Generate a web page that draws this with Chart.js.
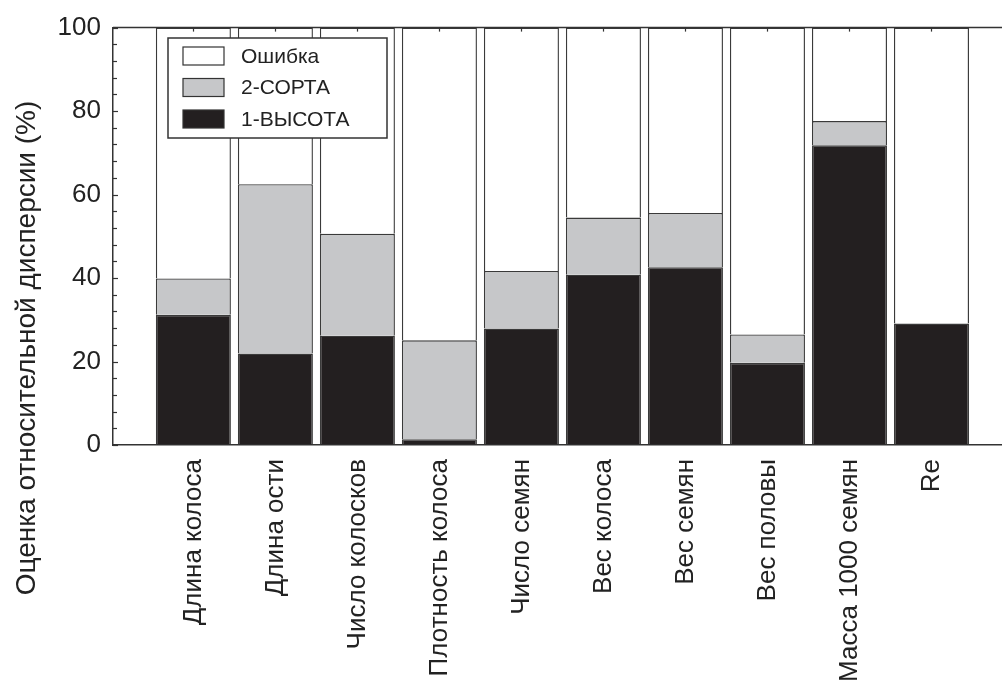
<!DOCTYPE html>
<html>
<head>
<meta charset="utf-8">
<script src="https://cdn.jsdelivr.net/npm/chart.js@4.4.1/dist/chart.umd.min.js"></script>
<style>
  html, body { margin: 0; padding: 0; background: #fff; }
  #wrap { width: 1002px; height: 684px; }
</style>
</head>
<body>
<div id="wrap"><canvas id="chart" width="1002" height="684"></canvas></div>
<script>
/* --------------- Data --------------------- */
const categories = [
  "Длина колоса", "Длина ости", "Число колосков", "Плотность колоса", "Число семян",
  "Вес колоса", "Вес семян", "Вес половы", "Масса 1000 семян", "Re",
];
const vysota = [31.2, 21.9, 26.2, 1.4, 27.9, 40.8, 42.6, 19.7, 71.8, 29.1];
const sorta = [8.7, 40.6, 24.4, 23.7, 13.8, 13.7, 13.0, 6.8, 5.8, 0];
const oshibka = [60.1, 37.5, 49.4, 74.9, 58.3, 45.5, 44.4, 73.5, 22.4, 70.9];
const yTicks = [0, 20, 40, 60, 80, 100];
const yTitle = "Оценка относительной дисперсии (%)";

const FONT = "'Liberation Sans', Arial, Helvetica, sans-serif";
const toPoints = (arr) => arr.map((v, i) => ({ x: i + 1, y: v }));

/* --------------- Frame, inner ticks, legend, y title --------------------- */
const framePlugin = {
  id: "frame",
  afterDraw(chart) {
    const { ctx, chartArea: a, scales: { x, y } } = chart;
    ctx.save();
    ctx.strokeStyle = "#333";
    ctx.lineWidth = 1.5;
    // top line
    ctx.beginPath();
    ctx.moveTo(a.left, a.top);
    ctx.lineTo(a.right, a.top);
    ctx.stroke();
    // minor + major ticks on the y axis, pointing inside
    ctx.lineWidth = 1.2;
    for (let v = 0; v <= 100; v += 4) {
      const py = Math.round(y.getPixelForValue(v)) + 0.5;
      ctx.beginPath();
      ctx.moveTo(a.left, py);
      ctx.lineTo(a.left + (v % 20 === 0 ? 5 : 4), py);
      ctx.stroke();
    }
    // ticks on the top line at category centres
    categories.forEach((_, i) => {
      const px = Math.round(x.getPixelForValue(i + 1)) + 0.5;
      ctx.beginPath();
      ctx.moveTo(px, a.top);
      ctx.lineTo(px, a.top + 4);
      ctx.stroke();
    });

    // legend box
    const lx = 168, ly = 38, lw = 219, lh = 100;
    ctx.fillStyle = "#fff";
    ctx.fillRect(lx, ly, lw, lh);
    ctx.strokeStyle = "#333";
    ctx.lineWidth = 1.5;
    ctx.strokeRect(lx, ly, lw, lh);
    const items = chart.data.datasets.slice().reverse();
    ctx.font = "21px " + FONT;
    ctx.textBaseline = "middle";
    items.forEach((ds, k) => {
      const cy = 56 + k * 31.5;
      ctx.fillStyle = ds.backgroundColor;
      ctx.fillRect(183, cy - 9, 41, 18);
      ctx.strokeStyle = "#333";
      ctx.lineWidth = 1.2;
      ctx.strokeRect(183, cy - 9, 41, 18);
      ctx.fillStyle = "#222";
      ctx.fillText(ds.label, 241, cy + 1);
    });

    // y axis title, centred lower than the plot as in the original
    ctx.translate(27, 348);
    ctx.rotate(-Math.PI / 2);
    ctx.font = "28px " + FONT;
    ctx.textAlign = "center";
    ctx.fillStyle = "#222";
    ctx.fillText(yTitle, 0, 0);
    ctx.restore();
  },
};

/* --------------- Chart --------------------- */
new Chart(document.getElementById("chart"), {
  type: "bar",
  plugins: [framePlugin],
  data: {
    datasets: [
      { label: "1-ВЫСОТА", data: toPoints(vysota), backgroundColor: "#231f20" },
      { label: "2-СОРТА", data: toPoints(sorta), backgroundColor: "#c6c7c9" },
      { label: "Ошибка", data: toPoints(oshibka), backgroundColor: "#ffffff" },
    ],
  },
  options: {
    responsive: false,
    animation: false,
    layout: { padding: { top: 26, right: 0, left: 0, bottom: 0 } },
    datasets: {
      bar: {
        borderColor: "#3a3a3a",
        borderWidth: 1.4,
        categoryPercentage: 1,
        barPercentage: 0.915,
      },
    },
    plugins: { legend: { display: false }, tooltip: { enabled: false } },
    scales: {
      x: {
        type: "linear",
        stacked: true,
        offset: false,
        min: 0.02,
        max: 10.86,
        afterBuildTicks: (scale) => {
          scale.ticks = categories.map((_, i) => ({ value: i + 1 }));
        },
        afterFit: (scale) => { scale.height = 239; },
        grid: { display: true, offset: false, drawOnChartArea: false, drawTicks: false },
        border: { display: true, color: "#333", width: 1.5 },
        ticks: {
          autoSkip: false,
          minRotation: 90,
          maxRotation: 90,
          padding: 14,
          color: "#222",
          font: { family: FONT, size: 26 },
          callback: (v) => categories[v - 1],
        },
      },
      y: {
        stacked: true,
        min: 0,
        max: 100,
        afterBuildTicks: (scale) => {
          scale.ticks = yTicks.map((v) => ({ value: v }));
        },
        afterFit: (scale) => { scale.width = 113; },
        grid: { display: true, drawOnChartArea: false, drawTicks: false },
        border: { display: true, color: "#333", width: 1.5 },
        ticks: {
          padding: 12,
          color: "#222",
          font: { family: FONT, size: 26 },
        },
      },
    },
  },
});
</script>
</body>
</html>
